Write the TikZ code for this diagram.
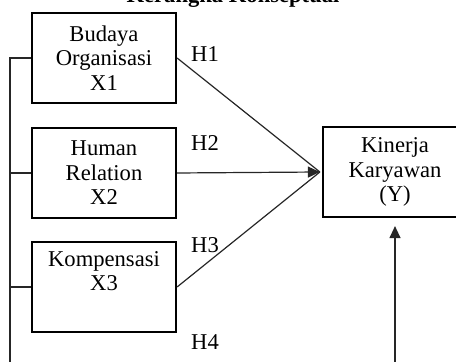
\documentclass[tikz,border=0pt]{standalone}
\usepackage{fontspec}
\setmainfont{Liberation Serif}
\usetikzlibrary{arrows.meta}
\tikzset{
  varbox/.style={draw, line width=1.1pt, minimum width=72pt, minimum height=45pt,
    align=center, inner sep=0pt, font=\fontsize{11.3}{12.3}\selectfont},
  conn/.style={draw=black!85, line width=0.6pt},
  arr/.style={-{Triangle[length=6pt,width=5.5pt]}},
  hlabel/.style={anchor=base, inner sep=0pt, font=\fontsize{11.3}{12.3}\selectfont},
}
\begin{document}
\begin{tikzpicture}[x=0.5pt, y=-0.5pt]
\useasboundingbox (0,0) rectangle (456,362);
\clip (0,0) rectangle (456,362);
% title (cut off at the top, as in the reference)
\node[hlabel, font=\fontsize{11.3}{12.3}\selectfont\bfseries] (title) at (233,3) {Kerangka Konseptual};
% boxes
\node[varbox] (b1) at (104,58) {Budaya\\Organisasi\\X1};
\node[varbox] (b2) at (104,173) {Human\\Relation\\X2};
\node[varbox] (b3) at (104,287) {Kompensasi\\X3\\\strut};
\node[varbox] (k) at (395,172) {Kinerja\\Karyawan\\(Y)};
% labels
\node[hlabel] (h1) at (205,61.5) {H1};
\node[hlabel] (h2) at (205,151) {H2};
\node[hlabel] (h3) at (205,253) {H3};
\node[hlabel] (h4) at (205,350) {H4};
% connectors
\coordinate (tip) at ([xshift=-1pt]k.west);
\coordinate (bl) at (10,380);
\coordinate (br) at (395,380);
\coordinate (ktip) at ([yshift=-4pt]k.south);
\draw[conn] (b1.east) -- (tip);
\draw[conn] (b3.east) -- (tip);
\draw[conn, arr] (b2.east) -- (tip);
\draw[conn] (b1.west) -| (bl);
\draw[conn] (b2.west) -- (b2.west -| bl);
\draw[conn] (b3.west) -- (b3.west -| bl);
\draw[conn, arr] (bl) -- (br) -- (ktip);
\end{tikzpicture}
\end{document}
